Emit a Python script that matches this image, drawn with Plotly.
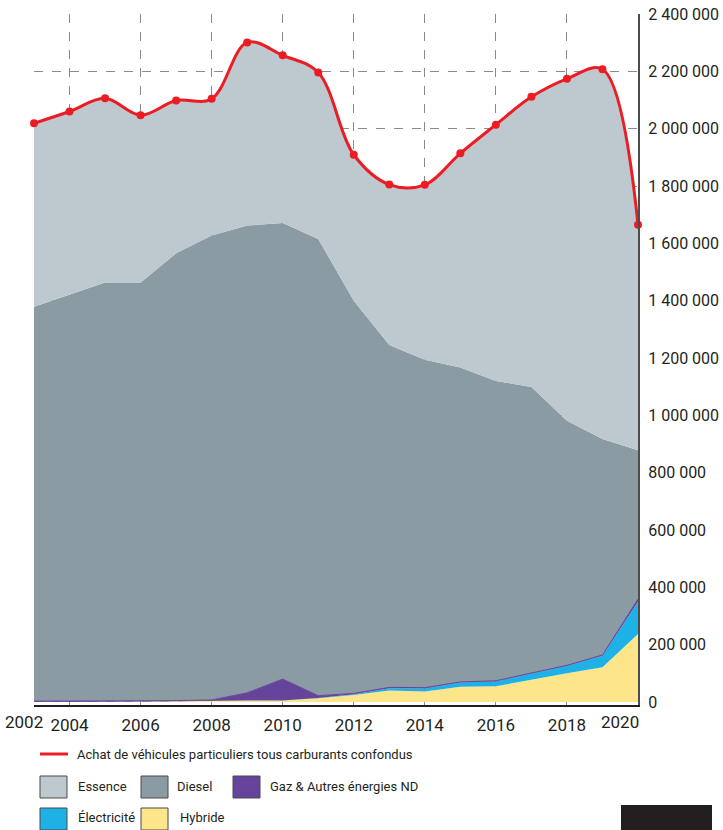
import plotly.graph_objects as go

# Immatriculations de voitures particulières neuves, par énergie
years = list(range(2003, 2021))

total = [2019000, 2060000, 2106000, 2047000, 2098000, 2104000, 2301000, 2256000, 2196000,
         1909000, 1805000, 1804000, 1914000, 2014000, 2111000, 2174000, 2207000, 1665000]
essence = [640000, 639000, 643000, 584000, 533000, 477000, 639000, 585000, 581000,
           509000, 560000, 610000, 747000, 894000, 1012000, 1193000, 1290000, 787000]
diesel = [1376000, 1418000, 1459000, 1459000, 1560000, 1620000, 1630000, 1591000, 1593000,
          1370000, 1194000, 1144000, 1097000, 1046000, 997000, 853000, 753000, 519000]
gaz = [3000, 3000, 3000, 2000, 2000, 2000, 27000, 75000, 8000,
       3000, 3000, 3000, 2000, 2000, 2000, 2000, 3000, 9000]
electricite = [0, 0, 0, 0, 0, 0, 0, 0, 1000,
               3000, 8000, 10000, 15000, 17000, 22000, 26000, 40000, 113000]
hybride = [0, 0, 1000, 2000, 3000, 5000, 5000, 5000, 13000,
           24000, 40000, 37000, 53000, 55000, 78000, 100000, 121000, 237000]

xtick_years = [2004, 2006, 2008, 2010, 2012, 2014, 2016, 2018]
ytick_vals = [0, 200000, 400000, 600000, 800000, 1000000, 1200000,
              1400000, 1600000, 1800000, 2000000, 2200000, 2400000]

COLOR_ESSENCE = "#bec8cf"
COLOR_DIESEL = "#8b9ba3"
COLOR_GAZ = "#66449b"
COLOR_ELEC = "#1eb1e6"
COLOR_HYBRIDE = "#fde68a"
COLOR_TOTAL = "#ec1c24"
TEXT = "#231f20"
FONT = "Roboto"

W, H = 723, 830
ML, MR, MT, MB = 34, 85, 14, 125
PW, PH = W - ML - MR, H - MT - MB


def px(x):
    return (x - ML) / PW


def py(y):
    return (H - MB - y) / PH


fig = go.Figure()

stack = [
    ("Hybride", hybride, COLOR_HYBRIDE, 0, "linear"),
    ("Électricité", electricite, COLOR_ELEC, 0, "linear"),
    ("Gaz & Autres énergies ND", gaz, COLOR_GAZ, 1, "linear"),
    ("Diesel", diesel, COLOR_DIESEL, 0, "linear"),
    ("Essence", essence, COLOR_ESSENCE, 0, "spline"),
]
for name, vals, color, lw, shape in stack:
    fig.add_trace(go.Scatter(
        x=years, y=vals, name=name, mode="lines",
        stackgroup="energies",
        line=dict(color=color, width=lw, shape=shape),
        fillcolor=color,
        showlegend=False,
    ))

fig.add_trace(go.Scatter(
    x=years, y=total, name="Achat de véhicules particuliers tous carburants confondus",
    mode="lines+markers",
    line=dict(color=COLOR_TOTAL, width=3, shape="spline"),
    marker=dict(color=COLOR_TOTAL, size=8),
    cliponaxis=False,
    showlegend=False,
))

fig.update_layout(
    width=W, height=H,
    margin=dict(l=ML, r=MR, t=MT, b=MB, autoexpand=False),
    paper_bgcolor="white",
    plot_bgcolor="white",
    font=dict(family=FONT, size=17, color=TEXT),
    separators=", ",
    showlegend=False,
)

fig.update_xaxes(
    range=[2003, 2020],
    automargin=False,
    tickvals=xtick_years,
    ticktext=[str(y) for y in xtick_years],
    showgrid=True, gridcolor="#8a8a8a", griddash="dash", gridwidth=1,
    showline=True, linecolor=TEXT, linewidth=2,
    ticks="outside", ticklen=4, tickcolor="rgba(0,0,0,0)",
    zeroline=False,
)
fig.update_yaxes(
    range=[-10500, 2400000],
    automargin=False,
    side="right",
    tickvals=ytick_vals,
    tickformat=",d",
    tickfont=dict(size=16),
    showgrid=True, gridcolor="#8a8a8a", griddash="dash", gridwidth=1,
    showline=True, linecolor="#4d4d4d", linewidth=2,
    ticks="outside", ticklen=5, tickcolor="rgba(0,0,0,0)",
    zeroline=False,
)

# edge year labels, pulled inside the page like in the original
fig.add_annotation(x=px(3), y=py(722), xref="paper", yref="paper", text="2002",
                   showarrow=False, xanchor="left", yanchor="middle",
                   font=dict(family=FONT, size=17, color=TEXT))
fig.add_annotation(x=px(641), y=py(722), xref="paper", yref="paper", text="2020",
                   showarrow=False, xanchor="right", yanchor="middle",
                   font=dict(family=FONT, size=17, color=TEXT))

# hand-made legend
LEG_SIZE = 13
shapes = [dict(type="line", xref="paper", yref="paper",
               x0=px(40), x1=px(68), y0=py(754), y1=py(754),
               line=dict(color=COLOR_TOTAL, width=3))]
legend_items = [
    ("Essence", COLOR_ESSENCE, 40, 787, 76),
    ("Diesel", COLOR_DIESEL, 141, 787, 175),
    ("Gaz & Autres énergies ND", COLOR_GAZ, 233, 787, 268),
    ("Électricité", COLOR_ELEC, 40, 819, 76),
    ("Hybride", COLOR_HYBRIDE, 141, 819, 178),
]
for label, color, bx, cy, tx in legend_items:
    shapes.append(dict(type="rect", xref="paper", yref="paper",
                       x0=px(bx), x1=px(bx + 27), y0=py(cy - 11), y1=py(cy + 11),
                       fillcolor=color, line=dict(color="#4a4a4a", width=1)))
    fig.add_annotation(x=px(tx), y=py(cy - 1), xref="paper", yref="paper", text=label,
                       showarrow=False, xanchor="left", yanchor="middle",
                       font=dict(family=FONT, size=LEG_SIZE, color=TEXT))
fig.add_annotation(x=px(75), y=py(754), xref="paper", yref="paper",
                   text="Achat de véhicules particuliers tous carburants confondus",
                   showarrow=False, xanchor="left", yanchor="middle",
                   font=dict(family=FONT, size=LEG_SIZE, color=TEXT))

# dark block in the bottom right corner
shapes.append(dict(type="rect", xref="paper", yref="paper",
                   x0=px(621), x1=px(712), y0=py(805), y1=py(830),
                   fillcolor=TEXT, line=dict(width=0)))
fig.update_layout(shapes=shapes)

fig.write_html("out.html", config={"displayModeBar": False},
               post_script="document.body.style.margin = '0';")
